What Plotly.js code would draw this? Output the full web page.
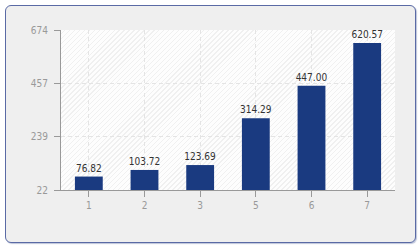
<!DOCTYPE html>
<html>
<head>
<meta charset="utf-8">
<script src="https://cdn.plot.ly/plotly-3.0.1.min.js"></script>
<style>
  html, body { margin:0; padding:0; background:#ffffff; }
  #wrap { position:relative; width:420px; height:250px; overflow:hidden; }
  #box { position:absolute; left:5px; top:5px; width:409px; height:236px;
         border:1px solid #5a6aa5; border-radius:6px; background:#efefef;
         box-shadow: 1px 1px 1px rgba(70,90,150,0.35); }
  #hatch { position:absolute; left:61px; top:30px; width:334px; height:160px;
           background-color:#fdfdfd;
           background-image: repeating-linear-gradient(135deg, #fdfdfd 0px, #fdfdfd 2.5px, #f0f0f0 2.5px, #f0f0f0 3.5px); }
  #chart { position:absolute; left:0; top:0; width:420px; height:250px; }
</style>
</head>
<body>
<div id="wrap">
  <div id="box"></div>
  <div id="hatch"></div>
  <div id="chart"></div>
</div>
<script>
const categories = ["1", "2", "3", "5", "6", "7"];
const values = [76.82, 103.72, 123.69, 314.29, 447.00, 620.57];
const yTickVals = [22, 239, 457, 674];
const yRange = [22, 674];

const FONT = '"DejaVu Sans Condensed", "DejaVu Sans", sans-serif';

const trace = {
  type: 'bar',
  x: categories,
  y: values,
  base: 0,
  marker: { color: '#1a3a80', line: { width: 0 } },
  text: values.map(v => v.toFixed(2)),
  textposition: 'outside',
  constraintext: 'none',
  textfont: { family: FONT, size: 10, color: '#333333' },
  cliponaxis: false,
  hoverinfo: 'none'
};

const layout = {
  width: 420, height: 250,
  margin: { l: 61, r: 25, t: 30, b: 60, pad: 0 },
  paper_bgcolor: 'rgba(0,0,0,0)',
  plot_bgcolor: 'rgba(0,0,0,0)',
  showlegend: false,
  bargap: 0.5,
  font: { family: FONT, size: 10, color: '#999999' },
  xaxis: {
    type: 'category',
    showline: true, linecolor: '#999999', linewidth: 1,
    ticks: 'outside', ticklen: 6, tickcolor: '#999999', tickwidth: 1,
    showgrid: true, gridcolor: '#e4e4e4', griddash: '4px,3px', gridwidth: 1,
    tickfont: { family: FONT, size: 10, color: '#999999' },
    zeroline: false, fixedrange: true
  },
  yaxis: {
    range: yRange,
    tickvals: yTickVals,
    ticktext: yTickVals.map(String),
    showline: true, linecolor: '#999999', linewidth: 1,
    ticks: 'outside', ticklen: 6, tickcolor: '#999999', tickwidth: 1,
    ticklabelstandoff: 4,
    showgrid: true, gridcolor: '#e4e4e4', griddash: '4px,3px', gridwidth: 1,
    tickfont: { family: FONT, size: 10, color: '#999999' },
    zeroline: false, fixedrange: true
  }
};

Plotly.newPlot('chart', [trace], layout, { displayModeBar: false, staticPlot: true });
</script>
</body>
</html>
